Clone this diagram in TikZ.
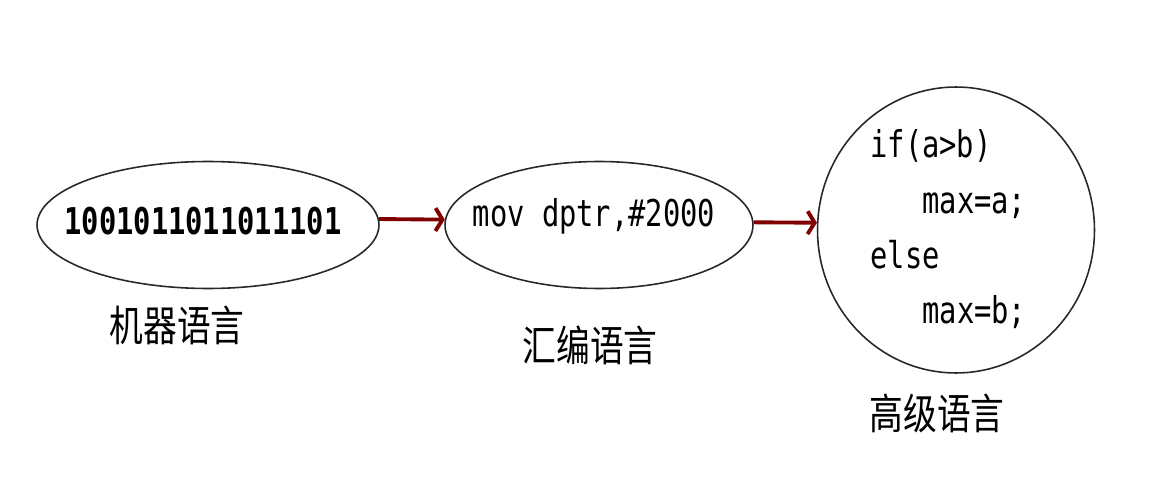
\documentclass[tikz,border=0pt]{standalone}
\usepackage{fontspec}
\setmainfont{DejaVu Sans}
\newfontfamily\codefont[FakeStretch=0.78]{DejaVu Sans Mono}
\newfontfamily\cjkfont[FakeStretch=0.8]{Noto Sans CJK SC}
\definecolor{arrowred}{RGB}{128,0,0}
\definecolor{outlinegray}{RGB}{40,40,40}
\usetikzlibrary{arrows.meta,positioning,shapes.geometric}

\begin{document}
\begin{tikzpicture}[x=0.02cm,y=-0.02cm,
    langshape/.style={draw=outlinegray,line width=0.9pt,ellipse,inner sep=0pt},
    codetext/.style={font=\codefont\fontsize{21}{25}\selectfont,inner sep=0pt,anchor=base west},
    langlabel/.style={font=\cjkfont\fontsize{24}{28}\selectfont,inner sep=0pt},
    steparrow/.style={draw=arrowred,line width=2.2pt,-{Straight Barb[length=4pt,width=13pt]}}]
  \useasboundingbox (0,0) rectangle (1163,483);

  % the three kinds of language
  \node[langshape,minimum width=6.84cm,minimum height=2.54cm] (machine) at (208,225) {};
  \node[langshape,minimum width=6.16cm,minimum height=2.54cm] (assembly) at (599,225) {};
  \node[langshape,minimum width=5.54cm,minimum height=5.72cm] (highlevel) at (956,230) {};

  % what is written inside
  \node[codetext,anchor=base,font=\codefont\bfseries\fontsize{21}{25}\selectfont] (bincode) at (203,234) {1001011011011101};
  \node[codetext,anchor=base] (asmcode) at (594,226) {mov dptr,\#2000};
  \node[codetext] (ifline) at (870,157) {if(a>b)};
  \node[codetext] (thenline) at (922,213) {max=a;};
  \node[codetext] (elseline) at (870,268) {else};
  \node[codetext] (otherline) at (922,323) {max=b;};

  % names below
  \node[langlabel] (machinename) at (177,325) {机器语言};
  \node[langlabel] (assemblyname) at (590,345) {汇编语言};
  \node[langlabel] (highname) at (937,413) {高级语言};

  \draw[steparrow] (machine.2) -- (assembly.178);
  \draw[steparrow] (assembly.1) -- (highlevel.177);
\end{tikzpicture}
\end{document}
